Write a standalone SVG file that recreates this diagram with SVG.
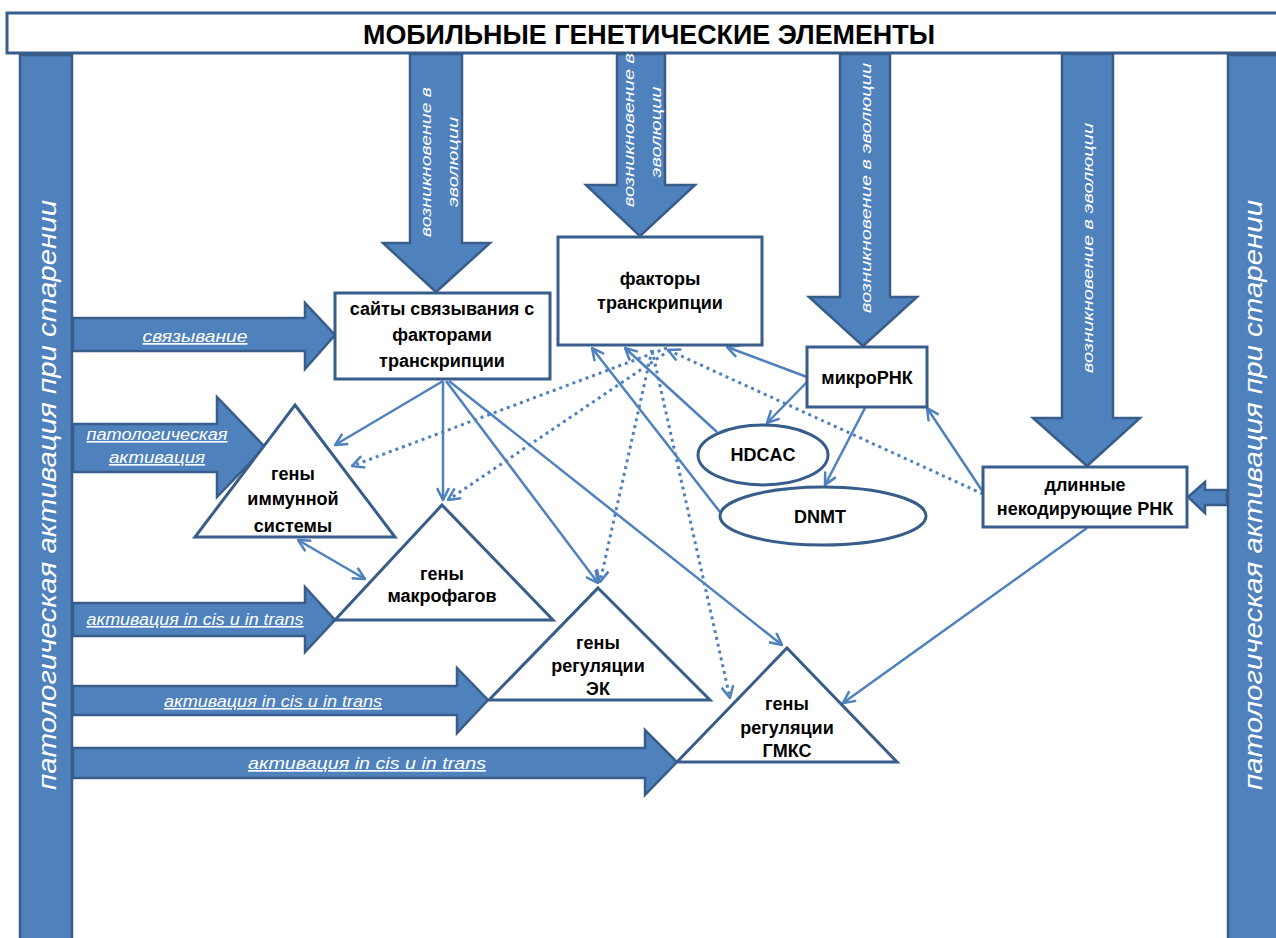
<svg xmlns="http://www.w3.org/2000/svg" width="1276" height="938" viewBox="0 0 1276 938">
<style>
.big{fill:#4f81bd;stroke:#385d8a;stroke-width:2.5;stroke-linejoin:miter}
.box{fill:#ffffff;stroke:#385d8a;stroke-width:3}
.lbl{font-family:"Liberation Sans",Arial,sans-serif;font-weight:bold;font-size:18px;fill:#000;text-anchor:middle}
.wt{font-family:"Liberation Sans",Arial,sans-serif;font-style:italic;fill:#ffffff;text-anchor:middle}
.ul{text-decoration:underline}
.con{fill:none;stroke:#4f81bd;stroke-width:2.5}
.dot{fill:none;stroke:#4f81bd;stroke-width:3;stroke-dasharray:3 4}
</style>
<defs>
<marker id="arr" viewBox="0 0 14 14" refX="13" refY="7" markerWidth="14" markerHeight="14" markerUnits="userSpaceOnUse" orient="auto-start-reverse">
<path d="M1,1 L13,7 L1,13" fill="none" stroke="#4f81bd" stroke-width="2.5"/>
</marker>
</defs>
<rect x="0" y="0" width="1276" height="938" fill="#ffffff"/>

<g id="side-bars">
<rect class="big" x="20" y="55" width="52" height="890"/>
<text class="wt" font-size="26" transform="translate(47,495) rotate(-90)" dominant-baseline="central" textLength="590" lengthAdjust="spacingAndGlyphs">патологическая активация при старении</text>
<rect class="big" x="1228" y="55" width="60" height="890"/>
<text class="wt" font-size="26" transform="translate(1253,495) rotate(-90)" dominant-baseline="central" textLength="590" lengthAdjust="spacingAndGlyphs">патологическая активация при старении</text>
</g>

<g id="title">
<rect x="7" y="13" width="1280" height="40" fill="#ffffff" stroke="#385d8a" stroke-width="3"/>
<text x="649" y="44" font-family="'Liberation Sans',Arial,sans-serif" font-weight="bold" font-size="27" text-anchor="middle" textLength="572" lengthAdjust="spacingAndGlyphs">МОБИЛЬНЫЕ ГЕНЕТИЧЕСКИЕ ЭЛЕМЕНТЫ</text>
</g>

<g id="evolution-arrows">
<polygon class="big" points="410,54 462,54 462,243 490,243 436,292 383,243 410,243"/>
<text class="wt" font-size="15" transform="translate(425,162) rotate(-90)" dominant-baseline="central" textLength="150" lengthAdjust="spacingAndGlyphs">возникновение в</text>
<text class="wt" font-size="15" transform="translate(452,162) rotate(-90)" dominant-baseline="central" textLength="90" lengthAdjust="spacingAndGlyphs">эволюции</text>
<polygon class="big" points="617,54 665,54 665,185 695,185 640,236 586,185 617,185"/>
<text class="wt" font-size="15" transform="translate(628,130) rotate(-90)" dominant-baseline="central" textLength="154" lengthAdjust="spacingAndGlyphs">возникновение в</text>
<text class="wt" font-size="15" transform="translate(655,132) rotate(-90)" dominant-baseline="central" textLength="91" lengthAdjust="spacingAndGlyphs">эволюции</text>
<polygon class="big" points="840,54 890,54 890,297 917,297 863,346 809,297 840,297"/>
<text class="wt" font-size="15" transform="translate(865,188) rotate(-90)" dominant-baseline="central" textLength="250" lengthAdjust="spacingAndGlyphs">возникновение в эволюции</text>
<polygon class="big" points="1062,54 1113,54 1113,418 1140,418 1087,466 1033,418 1062,418"/>
<text class="wt" font-size="15" transform="translate(1087,248) rotate(-90)" dominant-baseline="central" textLength="250" lengthAdjust="spacingAndGlyphs">возникновение в эволюции</text>
</g>

<g id="activation-arrows">
<polygon class="big" points="73,318 305,318 305,303 335,335 305,369 305,351 73,351"/>
<text class="wt ul" font-size="17" x="195" y="342" textLength="105" lengthAdjust="spacingAndGlyphs">связывание</text>
<polygon class="big" points="73,424 217,424 217,397 265,447 217,497 217,472 73,472"/>
<text class="wt ul" font-size="16" x="157" y="440" textLength="141" lengthAdjust="spacingAndGlyphs">патологическая</text>
<text class="wt ul" font-size="16" x="157" y="463" textLength="96" lengthAdjust="spacingAndGlyphs">активация</text>
<polygon class="big" points="73,603 305,603 305,587 335,620 305,652 305,636 73,636"/>
<text class="wt ul" font-size="16" x="195" y="625" textLength="217" lengthAdjust="spacingAndGlyphs">активация in cis u in trans</text>
<polygon class="big" points="73,686 457,686 457,668 488,700 457,733 457,715 73,715"/>
<text class="wt ul" font-size="16" x="273" y="707" textLength="218" lengthAdjust="spacingAndGlyphs">активация in cis u in trans</text>
<polygon class="big" points="73,748 645,748 645,730 677,762 645,795 645,778 73,778"/>
<text class="wt ul" font-size="17" x="367" y="769" textLength="238" lengthAdjust="spacingAndGlyphs">активация in cis u in trans</text>
<polygon class="big" points="1227,490 1205,490 1205,482 1188,497 1205,513 1205,505 1227,505"/>
</g>

<g id="connectors">
<line class="con" x1="443" y1="381" x2="335" y2="445" marker-end="url(#arr)"/>
<line class="con" x1="443" y1="381" x2="443" y2="500" marker-end="url(#arr)"/>
<line class="con" x1="446" y1="381" x2="598" y2="583" marker-end="url(#arr)"/>
<line class="con" x1="449" y1="381" x2="782" y2="645" marker-end="url(#arr)"/>
<line class="con" x1="720" y1="512" x2="592" y2="348" marker-end="url(#arr)"/>
<line class="con" x1="717" y1="432" x2="625" y2="348" marker-end="url(#arr)"/>
<line class="con" x1="807" y1="377" x2="727" y2="347" marker-end="url(#arr)"/>
<line class="con" x1="807" y1="382" x2="767" y2="423" marker-end="url(#arr)"/>
<line class="con" x1="865" y1="408" x2="825" y2="485" marker-end="url(#arr)"/>
<line class="con" x1="983" y1="492" x2="927" y2="408" marker-end="url(#arr)"/>
<line class="con" x1="1087" y1="528" x2="843" y2="703" marker-end="url(#arr)"/>
<line class="con" x1="298" y1="540" x2="365" y2="579" marker-start="url(#arr)" marker-end="url(#arr)"/>
<line class="dot" x1="667" y1="348" x2="352" y2="466" marker-end="url(#arr)"/>
<line class="dot" x1="670" y1="350" x2="448" y2="500" marker-end="url(#arr)"/>
<line class="dot" x1="652" y1="350" x2="600" y2="582" marker-end="url(#arr)"/>
<line class="dot" x1="652" y1="350" x2="730" y2="698" marker-end="url(#arr)"/>
<line class="dot" x1="983" y1="494" x2="668" y2="350" marker-end="url(#arr)"/>
</g>

<g id="node-sites">
<rect class="box" x="335" y="293" width="215" height="86"/>
<text class="lbl" x="442" y="315">сайты связывания  с</text>
<text class="lbl" x="442" y="341">факторами</text>
<text class="lbl" x="442" y="367">транскрипции</text>
</g>
<g id="node-tf">
<rect class="box" x="558" y="237" width="204" height="108"/>
<text class="lbl" x="660" y="285">факторы</text>
<text class="lbl" x="660" y="309">транскрипции</text>
</g>
<g id="node-mirna">
<rect class="box" x="807" y="347" width="120" height="60"/>
<text class="lbl" x="867" y="384">микроРНК</text>
</g>
<g id="node-hdcac">
<ellipse class="box" cx="763" cy="455" rx="65" ry="30"/>
<text class="lbl" x="763" y="461">HDCAC</text>
</g>
<g id="node-dnmt">
<ellipse class="box" cx="823" cy="516" rx="103" ry="29"/>
<text class="lbl" x="820" y="523">DNMT</text>
</g>
<g id="node-lncrna">
<rect class="box" x="983" y="467" width="204" height="60"/>
<text class="lbl" x="1085" y="491">длинные</text>
<text class="lbl" x="1085" y="515">некодирующие РНК</text>
</g>
<g id="node-immune">
<polygon class="box" points="295,405 395,537 195,537"/>
<text class="lbl" x="293" y="480">гены</text>
<text class="lbl" x="293" y="505">иммунной</text>
<text class="lbl" x="293" y="532">системы</text>
</g>
<g id="node-macro">
<polygon class="box" points="442,505 553,620 335,620"/>
<text class="lbl" x="442" y="580">гены</text>
<text class="lbl" x="442" y="602">макрофагов</text>
</g>
<g id="node-ec">
<polygon class="box" points="598,588 710,700 489,700"/>
<text class="lbl" x="598" y="649">гены</text>
<text class="lbl" x="598" y="672">регуляции</text>
<text class="lbl" x="598" y="695">ЭК</text>
</g>
<g id="node-smc">
<polygon class="box" points="787,648 897,762 677,762"/>
<text class="lbl" x="787" y="710">гены</text>
<text class="lbl" x="787" y="734">регуляции</text>
<text class="lbl" x="787" y="757">ГМКС</text>
</g>
</svg>
